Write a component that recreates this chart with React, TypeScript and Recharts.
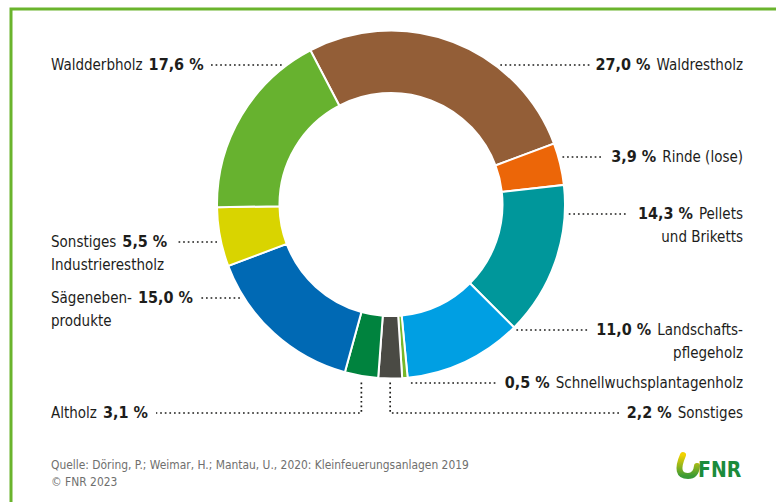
import React from 'react';
import { PieChart, Pie, Cell } from 'recharts';

// Anteile der Sortimente am Brennholzverbrauch (in %)
const categories = [
    'Waldrestholz',
    'Rinde (lose)',
    'Pellets und Briketts',
    'Landschaftspflegeholz',
    'Schnellwuchsplantagenholz',
    'Sonstiges',
    'Altholz',
    'Sägenebenprodukte',
    'Sonstiges Industrierestholz',
    'Waldderbholz',
];
const shares = [27.0, 3.9, 14.3, 11.0, 0.5, 2.2, 3.1, 15.0, 5.5, 17.6];
const nameLines = [
    ['Waldrestholz'],
    ['Rinde (lose)'],
    ['Pellets', 'und Briketts'],
    ['Landschafts-', 'pflegeholz'],
    ['Schnellwuchsplantagenholz'],
    ['Sonstiges'],
    ['Altholz'],
    ['Sägeneben-', 'produkte'],
    ['Sonstiges', 'Industrierestholz'],
    ['Waldderbholz'],
];
const colors = ['#935e37', '#ec6608', '#00979b', '#009fe3', '#76b82a', '#4a4a44', '#00833e', '#0069b4', '#d9d400', '#67b22f'];

// label placement: side, y of the leader line, x where the dots stop
const labelSide = ['right', 'right', 'right', 'right', 'bottom', 'bottomRight', 'bottomLeft', 'left', 'left', 'left'];
const labelY = [65, 157, 214, 330, 383, 413, 413, 298, 242, 65];
const leaderEnd = [590, 603, 628, 590, 498, 620, 156, 200, 176, 210];

const data = categories.map((name, i) => ({ name, value: shares[i] }));
const fmt = (v: number) => v.toFixed(1).replace('.', ',') + ' %';

const FONT = "'DejaVu Sans Condensed', 'Liberation Sans Narrow', sans-serif";
const TEXT = '#1d1d1b';
const RIGHT_X = 743;
const LEFT_X = 51;
const NAME_SIZE = 15;
const PCT_SIZE = 16;
const dots = { stroke: TEXT, strokeWidth: 1.7, strokeDasharray: '1.7 2.9', fill: 'none' };

const renderLabel = (props: any) => {
    const { cx, cy, midAngle, outerRadius, index } = props;
    const side = labelSide[index];
    const y = labelY[index];
    const lines = nameLines[index];
    const pct = fmt(shares[index]);
    const rad = (-midAngle * Math.PI) / 180;
    const ax = cx + outerRadius * Math.cos(rad);
    const dy = y - cy;
    const edge = Math.sqrt(Math.max(0, (outerRadius + 2) ** 2 - dy * dy));
    const base = y + 5;

    if (side === 'right' || side === 'bottom' || side === 'bottomRight') {
        let path = '';
        if (side === 'right') path = `M${cx + edge + 2},${y} L${leaderEnd[index]},${y}`;
        else if (side === 'bottom') path = `M${ax + 6},${y} L${leaderEnd[index]},${y}`;
        else path = `M${ax},${cy + outerRadius + 4} L${ax},${y} L${leaderEnd[index]},${y}`;
        return (
            <g key={`l-${index}`}>
                <path d={path} {...dots} />
                <text x={RIGHT_X} y={base} textAnchor="end" fontFamily={FONT} fontSize={NAME_SIZE} fill={TEXT}>
                    <tspan fontWeight="bold" fontSize={PCT_SIZE}>{pct}</tspan>
                    <tspan dx={6}>{lines[0]}</tspan>
                </text>
                {lines[1] && (
                    <text x={RIGHT_X} y={base + 23} textAnchor="end" fontFamily={FONT} fontSize={NAME_SIZE} fill={TEXT}>
                        {lines[1]}
                    </text>
                )}
            </g>
        );
    }

    let path = '';
    if (side === 'left') path = `M${cx - edge - 2},${y} L${leaderEnd[index]},${y}`;
    else path = `M${ax},${cy + outerRadius + 4} L${ax},${y} L${leaderEnd[index]},${y}`;
    return (
        <g key={`l-${index}`}>
            <path d={path} {...dots} />
            <text x={LEFT_X} y={base} fontFamily={FONT} fontSize={NAME_SIZE} fill={TEXT}>
                <tspan>{lines[0]}</tspan>
                <tspan dx={6} fontWeight="bold" fontSize={PCT_SIZE}>{pct}</tspan>
            </text>
            {lines[1] && (
                <text x={LEFT_X} y={base + 23} fontFamily={FONT} fontSize={NAME_SIZE} fill={TEXT}>
                    {lines[1]}
                </text>
            )}
        </g>
    );
};

const App: React.FC = () => {
    return (
        <div style={{ position: 'fixed', left: 0, top: 0, width: 776, height: 502, background: '#fff' }}>
            <svg width={776} height={502} style={{ position: 'absolute', left: 0, top: 0 }}>
                <defs>
                    <linearGradient id="fnr-hook" x1="0" y1="0" x2="0" y2="1">
                        <stop offset="0%" stopColor="#f2d200" />
                        <stop offset="100%" stopColor="#3a9a35" />
                    </linearGradient>
                </defs>
                <path d="M11,502 L11,9 L776,9" fill="none" stroke="#6ab42d" strokeWidth={3} />
                <text x={LEFT_X} y={469} fontFamily={FONT} fontSize={11.9} fill="#6f6f6e">
                    Quelle: Döring, P.; Weimar, H.; Mantau, U., 2020: Kleinfeuerungsanlagen 2019
                </text>
                <text x={LEFT_X} y={486} fontFamily={FONT} fontSize={11.9} fill="#6f6f6e">
                    © FNR 2023
                </text>
                <path d="M683,455 Q674,476 688,476 Q696,476 697,466" fill="none" stroke="url(#fnr-hook)" strokeWidth={6} strokeLinecap="round" />
                <text x={698} y={477} fontFamily={FONT} fontSize={21} fontWeight="bold" fill="#1b8b3b">FNR</text>
            </svg>
            <div style={{ position: 'absolute', left: 0, top: 0 }}>
                <PieChart width={776} height={502} margin={{ top: 0, right: 0, bottom: 0, left: 0 }}>
                    <Pie
                        data={data}
                        dataKey="value"
                        nameKey="name"
                        cx={391}
                        cy={204.5}
                        innerRadius={111.5}
                        outerRadius={174}
                        startAngle={117.6}
                        endAngle={-242.4}
                        stroke="#ffffff"
                        strokeWidth={2}
                        label={renderLabel}
                        labelLine={false}
                        isAnimationActive={false}
                    >
                        {data.map((d, i) => (
                            <Cell key={d.name} fill={colors[i]} />
                        ))}
                    </Pie>
                </PieChart>
            </div>
        </div>
    );
};

export default App;
